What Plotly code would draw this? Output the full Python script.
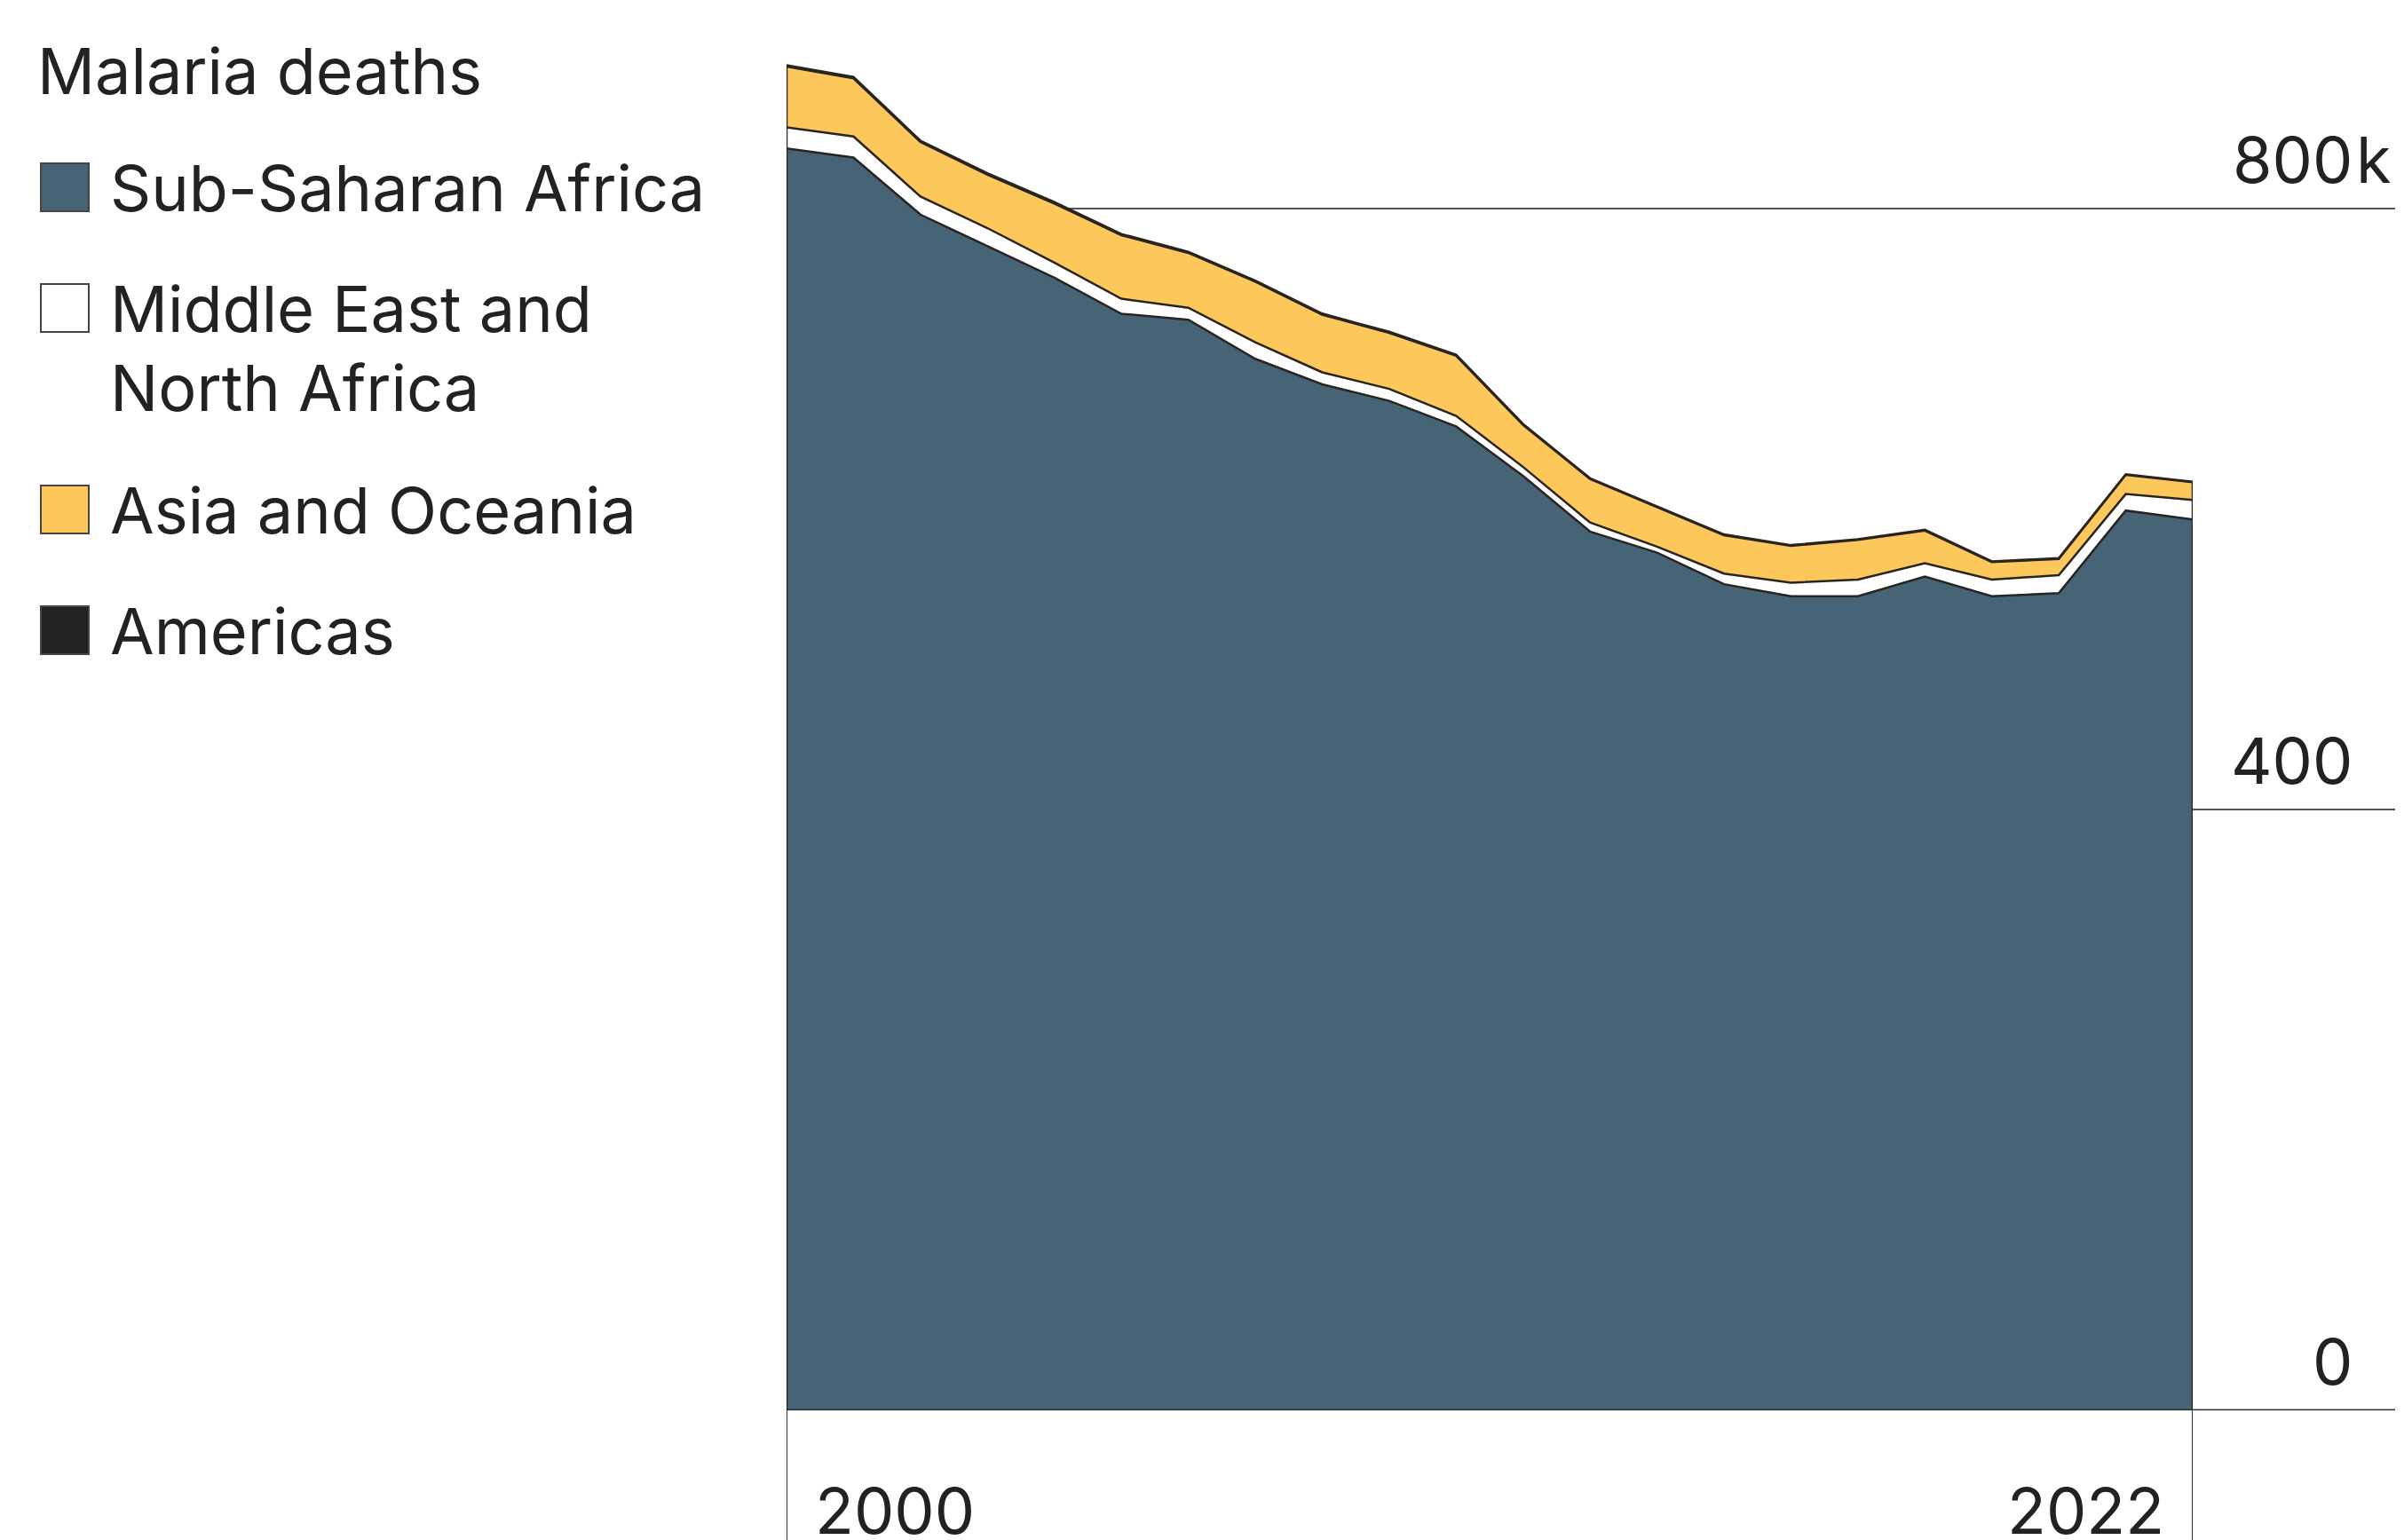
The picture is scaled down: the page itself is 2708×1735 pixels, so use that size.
import plotly.graph_objects as go

# Malaria deaths by region, thousands
years = list(range(2000, 2022))
sub_saharan_africa = [840, 834, 796, 775, 754, 730, 726, 700, 683, 672, 655, 622,
                      585, 571, 550, 542, 542, 555, 542, 544, 599, 593]
middle_east_north_africa = [14, 14, 12, 12, 10, 10, 8, 11, 8, 8, 7, 6,
                            6, 4, 7, 9, 11, 9, 11, 12, 11, 13]
asia_oceania = [40.5, 38.7, 36.3, 35.6, 39.4, 42.3, 36.5, 40.3, 38.4, 37.3, 40.0, 28.0,
                29.0, 26.5, 25.6, 24.5, 26.4, 21.6, 11.7, 10.8, 12.7, 11.8]
americas = [1.0, 1.0, 0.9, 0.9, 0.9, 0.8, 0.8, 0.7, 0.7, 0.7, 0.7, 0.6,
            0.5, 0.5, 0.5, 0.5, 0.5, 0.6, 0.5, 0.5, 0.5, 0.4]

series_names = ["Sub-Saharan Africa", "Middle East and<br>North Africa",
                "Asia and Oceania", "Americas"]
series_values = [sub_saharan_africa, middle_east_north_africa, asia_oceania, americas]
series_colors = ["#466475", "#FFFFFF", "#FCC85C", "#222222"]

y_tick_values = [0, 400, 800]
y_tick_text = ["0", "400", "800"]
y_tick_suffix = "k"
x_tick_values = [2000, 2021]
x_tick_text = ["2000", "2022"]
title_text = "Malaria deaths"

W, H = 2708, 1735
ML, MR, MT, MB = 886, 238, 40, 146
PW, PH = W - ML - MR, H - MT - MB
FONT = "Inter, 'Liberation Sans', Arial, sans-serif"
TXT = "#222222"
EDGE = "#2a2420"


def px_x(px):
    return (px - ML) / PW


def px_y(py):
    return (H - MB - py) / PH


fig = go.Figure()
for name, vals, col in zip(series_names, series_values, series_colors):
    fig.add_trace(go.Scatter(
        x=years, y=vals, name=name.replace("<br>", " "), stackgroup="regions",
        mode="lines", line=dict(color=EDGE, width=2.5), fillcolor=col,
        showlegend=False, hoverinfo="skip"))

totals = [sum(v) for v in zip(*series_values)]
y_top = PH / (PH / (H - MB - MT)) / 1.6925  # data units spanning the plot height
y_max = (H - MB - MT) / 1.6925

shapes = []
# gridlines behind the areas, running out to the labels
for v in y_tick_values[1:]:
    shapes.append(dict(type="line", xref="paper", yref="y", x0=0, x1=px_x(2698),
                       y0=v, y1=v, line=dict(color="#555555", width=2), layer="below"))
# baseline
shapes.append(dict(type="line", xref="paper", yref="y", x0=0, x1=px_x(2698),
                   y0=0, y1=0, line=dict(color="#333333", width=3), layer="above"))
# year rules: along the area edge and down past the axis
for xv, tot in ((years[0], totals[0]), (years[-1], totals[-1])):
    shapes.append(dict(type="line", xref="x", yref="y", x0=xv, x1=xv, y0=0, y1=tot,
                       line=dict(color=EDGE, width=2.5), layer="above"))
    shapes.append(dict(type="line", xref="x", yref="paper", x0=xv, x1=xv,
                       y0=px_y(H), y1=0, line=dict(color="#333333", width=2),
                       layer="above"))

annotations = []
# y tick labels, digits right-aligned
digit_edge = px_x(2652)
for v, t in zip(y_tick_values, y_tick_text):
    annotations.append(dict(x=digit_edge, y=v, xref="paper", yref="y", text=t,
                            showarrow=False, xanchor="right", yanchor="bottom",
                            yshift=10, font=dict(family=FONT, size=72, color=TXT)))
annotations.append(dict(x=digit_edge, y=y_tick_values[-1], xref="paper", yref="y",
                        text=y_tick_suffix, showarrow=False, xanchor="left",
                        yanchor="bottom", yshift=10,
                        font=dict(family=FONT, size=72, color=TXT)))
# x tick labels
for xv, t, anchor, shift in zip(x_tick_values, x_tick_text, ["left", "right"], [30, -30]):
    annotations.append(dict(x=xv, y=px_y(1702), xref="x", yref="paper", text=t,
                            showarrow=False, xanchor=anchor, yanchor="middle",
                            xshift=shift, font=dict(family=FONT, size=72, color=TXT)))

# legend block
annotations.append(dict(x=px_x(40), y=px_y(80), xref="paper", yref="paper",
                        text=title_text, showarrow=False, xanchor="left",
                        yanchor="middle", font=dict(family=FONT, size=72, color=TXT)))
row_centers = [211, 347, 574, 710]
for name, col, cy in zip(series_names, series_colors, row_centers):
    shapes.append(dict(type="rect", xref="paper", yref="paper",
                       x0=px_x(46), x1=px_x(100), y0=px_y(cy + 27), y1=px_y(cy - 27),
                       fillcolor=col, line=dict(color="#444444", width=2)))
    for k, line in enumerate(name.split("<br>")):
        annotations.append(dict(x=px_x(122), y=px_y(cy + 89 * k), xref="paper",
                                yref="paper", text=line, showarrow=False,
                                xanchor="left", yanchor="middle",
                                font=dict(family=FONT, size=72, color=TXT)))

fig.update_layout(
    width=W, height=H, margin=dict(l=ML, r=MR, t=MT, b=MB, pad=0),
    paper_bgcolor="white", plot_bgcolor="white",
    xaxis=dict(range=[years[0], years[-1]], visible=False, fixedrange=True),
    yaxis=dict(range=[0, y_max], visible=False, fixedrange=True),
    shapes=shapes, annotations=annotations, showlegend=False,
)

fig.write_html("out.html", config={"displayModeBar": False})
